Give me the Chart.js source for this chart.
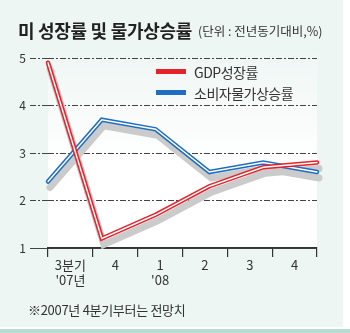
<!DOCTYPE html>
<html>
<head>
<meta charset="utf-8">
<script src="https://cdn.jsdelivr.net/npm/chart.js@4.4.1/dist/chart.umd.min.js"></script>
<style>
  html, body { margin: 0; padding: 0; background: #fff; }
  #frame { position: relative; width: 350px; height: 333px; overflow: hidden;
           font-family: "Noto Sans CJK KR", "Noto Sans", sans-serif; color: #333; }
  #bg { position: absolute; left: 0; top: 0; width: 343px; height: 327px; background: #eef6f4; }
  #band { position: absolute; left: 0; top: 329px; width: 350px; height: 4px; background: #b7dcd3; }
  #chart { position: absolute; left: 0; top: 0; }
  .title { position: absolute; left: 18px; top: 18px; font-size: 18px; font-weight: bold; color: #222;
           line-height: 24px; white-space: nowrap; letter-spacing: -0.3px; }
  .unit { position: absolute; left: 198px; top: 22px; font-size: 12.5px; line-height: 18px; white-space: nowrap;
          letter-spacing: 0; }
  .note { position: absolute; left: 28px; top: 301px; font-size: 13px; line-height: 18px; white-space: nowrap;
          letter-spacing: -0.3px; }
  #legend { position: absolute; left: 156px; top: 61px; }
  #legend div { display: flex; align-items: center; height: 21px; font-size: 14px; white-space: nowrap; letter-spacing: -0.5px; }
  #legend span.sw { display: inline-block; width: 30px; height: 5px; margin-right: 8px; }
</style>
</head>
<body>
<div id="frame">
  <div id="bg"></div>
  <div id="band"></div>
  <canvas id="chart" width="350" height="333"></canvas>
  <div class="title">미 성장률 및 물가상승률</div>
  <div class="unit">(단위 : 전년동기대비,%)</div>
  <div id="legend"></div>
  <div class="note">※2007년 4분기부터는 전망치</div>
</div>
<script>
const quarters = [["3분기", "'07년"], "4", ["1", "'08"], "2", "3", "4"];
const gdpGrowth = [4.9, 1.2, 1.7, 2.3, 2.7, 2.8];
const cpiGrowth = [2.4, 3.7, 3.5, 2.6, 2.8, 2.6];
const yTicks = [1, 2, 3, 4, 5];
const seriesNames = ["GDP성장률", "소비자물가상승률"];
const seriesColors = ["#e8222b", "#1f6ec1"];

const fontFamily = '"Noto Sans CJK KR", "Noto Sans", sans-serif';
const dash = [6, 2, 2, 2];

// white-ish plot area, mint at the top
const plotBg = {
    id: "plotBg",
    beforeDraw(chart) {
        const { ctx, chartArea: a } = chart;
        const g = ctx.createLinearGradient(0, a.top - 8, 0, a.bottom);
        g.addColorStop(0, "#eef6f4");
        g.addColorStop(0.55, "#ffffff");
        g.addColorStop(1, "#ffffff");
        ctx.save();
        ctx.fillStyle = g;
        ctx.fillRect(a.left, a.top - 8, a.right - a.left, a.bottom - a.top + 8);
        ctx.restore();
    }
};

function tracePath(ctx, pts, dx, dy) {
    ctx.beginPath();
    pts.forEach((p, i) => {
        if (i) ctx.lineTo(p.x + dx, p.y + dy);
        else ctx.moveTo(p.x + dx, p.y + dy);
    });
}

// grey drop shadow under the lines + thin white core inside each line
const doubleLine = {
    id: "doubleLine",
    beforeDatasetsDraw(chart) {
        const ctx = chart.ctx;
        ctx.save();
        ctx.strokeStyle = "#cbcbcb";
        ctx.lineWidth = 7;
        ctx.lineJoin = "miter";
        ctx.lineCap = "round";
        chart.data.datasets.forEach((ds, i) => {
            tracePath(ctx, chart.getDatasetMeta(i).data, 2, 6);
            ctx.stroke();
        });
        ctx.restore();
    },
    afterDatasetDraw(chart, args) {
        const ctx = chart.ctx;
        ctx.save();
        ctx.strokeStyle = "#ffffff";
        ctx.lineWidth = 1.4;
        ctx.lineJoin = "miter";
        ctx.lineCap = "round";
        tracePath(ctx, args.meta.data, 0, 0);
        ctx.stroke();
        ctx.restore();
    }
};

const chart = new Chart(document.getElementById("chart"), {
    type: "line",
    data: {
        labels: quarters,
        datasets: [
            { label: seriesNames[0], data: gdpGrowth, borderColor: seriesColors[0] },
            { label: seriesNames[1], data: cpiGrowth, borderColor: seriesColors[1] }
        ].map(ds => Object.assign(ds, {
            xAxisID: "x", yAxisID: "y",
            borderWidth: 4.5, tension: 0, pointRadius: 0, pointHoverRadius: 0,
            borderJoinStyle: "miter", borderCapStyle: "round", clip: false, fill: false
        }))
    },
    options: {
        responsive: false,
        animation: false,
        events: [],
        layout: { padding: { left: 0, right: 33, top: 58, bottom: 35 } },
        plugins: { legend: { display: false }, tooltip: { enabled: false } },
        scales: {
            x: { type: "category", display: false, offset: false },
            q: {
                type: "category", position: "bottom", labels: quarters, offset: true,
                grid: { offset: true, drawOnChartArea: false, tickLength: 9, color: "#333", lineWidth: 1.2 },
                border: { color: "#333", width: 1.5 },
                ticks: { color: "#333", font: { size: 13, family: fontFamily }, padding: 0,
                         maxRotation: 0, autoSkip: false },
                afterFit(s) { s.height = 50; }
            },
            y: {
                min: 1, max: 5,
                afterBuildTicks(s) { s.ticks = yTicks.map(v => ({ value: v })); },
                grid: { color: "#444", lineWidth: 1, tickLength: 18,
                        tickBorderDash: c => (c.tick && c.tick.value === 1 ? [] : dash) },
                border: { display: false, dash: c => (c.tick && c.tick.value === 1 ? [] : dash) },
                ticks: { color: "#333", font: { size: 12, family: fontFamily }, padding: 4 },
                afterFit(s) { s.width = 48; }
            }
        }
    },
    plugins: [plotBg, doubleLine]
});

// legend inside the plot, built from the datasets
const legend = document.getElementById("legend");
chart.data.datasets.forEach(ds => {
    const row = document.createElement("div");
    const sw = document.createElement("span");
    sw.className = "sw";
    sw.style.background = ds.borderColor;
    row.appendChild(sw);
    row.appendChild(document.createTextNode(ds.label));
    legend.appendChild(row);
});
</script>
</body>
</html>
